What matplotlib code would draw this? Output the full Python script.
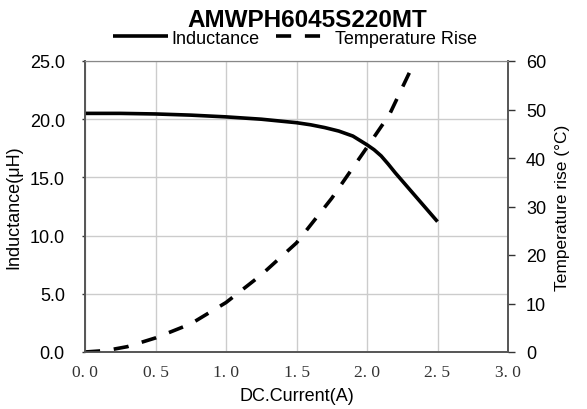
import matplotlib
matplotlib.use('Agg')
import matplotlib.pyplot as plt

# inductance curve
cur_L = [0.0, 0.25, 0.5, 0.75, 1.0, 1.25, 1.5, 1.6, 1.7, 1.8, 1.9, 2.0, 2.05, 2.1, 2.15, 2.2, 2.3, 2.4, 2.5]
ind_L = [20.5, 20.5, 20.45, 20.35, 20.2, 20.0, 19.7, 19.52, 19.28, 18.98, 18.55, 17.8, 17.38, 16.85, 16.15, 15.4, 14.0, 12.6, 11.2]

# temperature rise curve
cur_T = [0.0, 0.15, 0.3, 0.5, 0.75, 1.0, 1.25, 1.5, 1.75, 2.0, 2.16, 2.34]
temp_T = [0.0, 0.3, 1.1, 2.9, 5.8, 10.2, 15.9, 22.5, 31.7, 42.2, 49.0, 60.0]

xticks = [0.0, 0.5, 1.0, 1.5, 2.0, 2.5, 3.0]
xlabels = ['0. 0', '0. 5', '1. 0', '1. 5', '2. 0', '2. 5', '3. 0']
yticks_L = [0, 5, 10, 15, 20, 25]
yticks_T = [0, 10, 20, 30, 40, 50, 60]

plt.rcParams['font.family'] = ['Liberation Sans', 'DejaVu Sans']

fig = plt.figure(figsize=(5.87, 4.10), dpi=100)
ax = fig.add_axes([85/587, 1-353/410, (508-85)/587, (353-62)/410])
ax2 = ax.twinx()

l1, = ax.plot(cur_L, ind_L, color='black', lw=2.6, solid_capstyle='butt', label='Inductance')
l2, = ax2.plot(cur_T, temp_T, color='black', lw=2.6, dashes=(4.2, 3.8), label='Temperature Rise')

ax.set_xlim(0, 3.0)
ax.set_ylim(0, 25)
ax2.set_ylim(0, 60)
ax.set_xticks(xticks)
ax.set_xticklabels(xlabels, family=['Liberation Serif', 'DejaVu Serif'], fontsize=12.5, color='#333333')
ax.set_yticks(yticks_L)
ax.set_yticklabels(['%.1f' % v for v in yticks_L], fontsize=13)
ax2.set_yticks(yticks_T)
ax2.set_yticklabels([str(v) for v in yticks_T], fontsize=13)

ax.grid(True, color='#cccccc', lw=1)
ax.set_axisbelow(True)
ax.tick_params(axis='x', length=0, pad=9)
ax.tick_params(axis='y', length=2.5, width=1, color='#333333', pad=12)
ax2.tick_params(axis='y', length=5, width=1, color='#333333', pad=8)

for a in (ax, ax2):
    for s in ['left', 'bottom', 'right']:
        a.spines[s].set_color('#555555')
        a.spines[s].set_linewidth(1.2)
    a.spines['top'].set_color('#888888')

ax.set_xlabel('DC.Current(A)', fontsize=13, labelpad=5)
ax.set_ylabel('Inductance(μH)', fontsize=13, labelpad=5)
ax2.set_ylabel('Temperature rise (°C)', fontsize=12.5, labelpad=6)

fig.text(307/587, 1-27/410, 'AMWPH6045S220MT', ha='center', va='baseline', fontsize=17.5, fontweight='bold')
fig.legend(handles=[l1, l2], loc='center', bbox_to_anchor=(295/587, 1-39/410), ncol=2,
           frameon=False, fontsize=13, handlelength=3.05, handletextpad=0.22, columnspacing=0.9,
           borderaxespad=0, borderpad=0)

plt.savefig('out.png', dpi=100)
